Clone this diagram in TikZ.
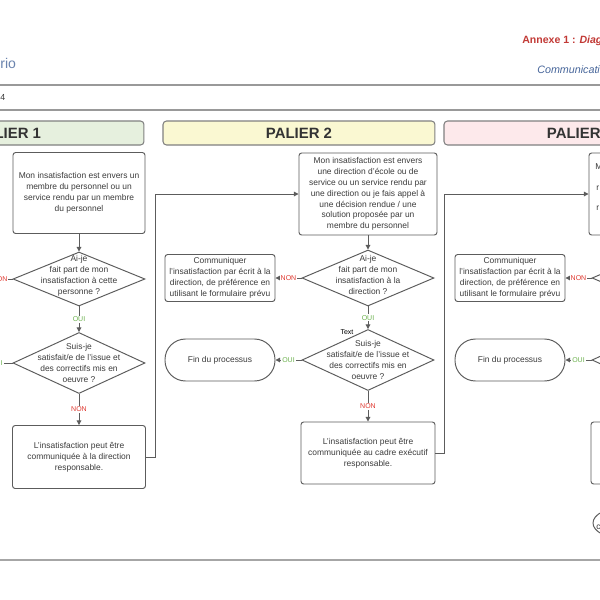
\documentclass[tikz,border=0pt]{standalone}
\usepackage{fontspec}
\setmainfont{Liberation Sans}
\usetikzlibrary{shapes.geometric,arrows.meta}

\definecolor{boxline}{HTML}{5C5C5C}
\definecolor{boxtext}{HTML}{3C3C3C}
\definecolor{nonred}{HTML}{E0382F}
\definecolor{ouigreen}{HTML}{6DB24F}
\definecolor{titlered}{HTML}{C23A36}
\definecolor{titleblue}{HTML}{46659A}
\definecolor{palgreen}{HTML}{E6F0DE}
\definecolor{palyellow}{HTML}{FAF8D2}
\definecolor{palpink}{HTML}{FDE9EB}

\begin{document}
\begin{tikzpicture}[x=0.02cm, y=-0.02cm]
		
\tikzstyle{mybox}=[
  rectangle,
  rounded corners=1.5pt,
  draw=boxline,
  line width=0.55pt,
  text=boxtext,
  align=center,
  font=\fontsize{4.8}{6.2}\selectfont,
  inner sep=0pt]

\tikzstyle{mydiamond}=[
  diamond,
  draw=boxline,
  line width=0.55pt,
  inner sep=0pt,
  minimum width=2.64cm]

\tikzstyle{mytext}=[
  text=boxtext,
  align=center,
  font=\fontsize{4.8}{6.2}\selectfont,
  inner sep=0pt]

\tikzstyle{myend}=[
  rectangle,
  rounded corners=0.41cm,
  draw=boxline,
  line width=0.55pt,
  minimum width=2.2cm,
  minimum height=0.84cm,
  text=boxtext,
  font=\fontsize{4.8}{6.2}\selectfont]

\tikzstyle{mypalier}=[
  rectangle,
  rounded corners=2pt,
  draw=black!50,
  line width=0.6pt,
  minimum width=5.44cm,
  minimum height=0.48cm,
  text=black!80,
  font=\fontsize{8.5}{10}\selectfont\bfseries]

\tikzstyle{mynon}=[fill=white, text=nonred, inner sep=0.6pt, font=\fontsize{4}{4}\selectfont]

\tikzstyle{myoui}=[fill=white, text=ouigreen, inner sep=0.6pt, font=\fontsize{4}{4}\selectfont]

\tikzstyle{myline}=[draw=boxline, line width=0.55pt]

\tikzstyle{myarrow}=[myline, -{Triangle[length=2.6pt, width=2.6pt]}]

% page
\path[use as bounding box, fill=white] (0,0) rectangle (600,600);
\clip (0,0) rectangle (600,600);

% define points
\path
  (79,193) coordinate(pM1)
  +(0,86) coordinate(pA1)
  +(0,170) coordinate(pS1)
  +(0,264) coordinate(pL1)
  (368,194) coordinate(pM2)
  (368,278) coordinate(pA2)
  +(0,82) coordinate(pS2)
  +(0,175) coordinate(pL2)
  +(-148,0) coordinate(pC2)
  +(-148,82) coordinate(pF2)
  (658,194) coordinate(pM3)
  (658,278) coordinate(pA3)
  +(0,82) coordinate(pS3)
  +(0,175) coordinate(pL3)
  +(-148,0) coordinate(pC3)
  +(-148,82) coordinate(pF3)
  (-20,279) coordinate(E1)
  (-20,363) coordinate(E2)
  (155,457) coordinate(K1)
  (444,453) coordinate(K2)
  ;

% header
\node[anchor=west, inner sep=0pt, text=titlered, font=\fontsize{6}{7}\selectfont\bfseries] (annexe) at (522,41) {Annexe 1 : \textit{Diag}};
\node[anchor=west, inner sep=0pt, text=titleblue, font=\fontsize{6.1}{7}\selectfont\itshape] (commu) at (537,70) {Communicati};
\node[anchor=west, text=titleblue!80, font=\fontsize{8}{9}\selectfont, inner sep=0pt] (scen) at (0,63) {rio};
\node[anchor=west, text=boxtext, font=\fontsize{5}{6}\selectfont, inner sep=0pt] (date) at (0,97) {4};
\draw[draw=black!40, line width=0.6pt] (0,85) coordinate(H1) -- (600,85) coordinate(H2);
\draw[draw=black!40, line width=0.6pt] (0,110) coordinate(H3) -- (600,110) coordinate(H4);
\draw[draw=black!35, line width=0.6pt] (0,560) coordinate(H5) -- (600,560) coordinate(H6);

\node[mypalier, fill=palgreen] (P1) at (8,133) {PALIER 1};
\node[mypalier, fill=palyellow] (P2) at (299,133) {PALIER 2};
\node[mypalier, fill=palpink] (P3) at (580,133) {PALIER 3};

% palier 1
\node[mybox, minimum width=2.64cm, minimum height=1.62cm] (M1) at (pM1) {Mon insatisfaction est envers un\\membre du personnel ou un\\service rendu par un membre\\du personnel};
\node[mydiamond, minimum height=1.08cm] (A1) at (pA1) {};
\node[mytext, yshift=0.06cm] (A1t) at (pA1) {Ai-je\\fait part de mon\\insatisfaction à cette\\personne ?};
\node[mydiamond, minimum height=1.22cm] (S1) at (pS1) {};
\node[mytext] (S1t) at (pS1) {Suis-je\\satisfait/e de l'issue et\\des correctifs mis en\\oeuvre ?};
\node[mybox, minimum width=2.66cm, minimum height=1.26cm] (L1) at (pL1) {L'insatisfaction peut être\\communiquée à la direction\\responsable.};

% palier 2
\node[mybox, minimum width=2.76cm, minimum height=1.64cm] (M2) at (pM2) {Mon insatisfaction est envers\\une direction d'école ou de\\service ou un service rendu par\\une direction ou je fais appel à\\une décision rendue / une\\solution proposée par un\\membre du personnel};
\node[mydiamond, minimum height=1.12cm] (A2) at (pA2) {};
\node[mytext, yshift=0.06cm] (A2t) at (pA2) {Ai-je\\fait part de mon\\insatisfaction à la\\direction ?};
\node[mydiamond, minimum height=1.22cm] (S2) at (pS2) {};
\node[mytext] (S2t) at (pS2) {Suis-je\\satisfait/e de l'issue et\\des correctifs mis en\\oeuvre ?};
\node[mybox, minimum width=2.68cm, minimum height=1.24cm] (L2) at (pL2) {L'insatisfaction peut être\\communiquée au cadre exécutif\\responsable.};
\node[mybox, minimum width=2.2cm, minimum height=0.94cm] (C2) at (pC2) {Communiquer\\l'insatisfaction par écrit à la\\direction, de préférence en\\utilisant le formulaire prévu};
\node[myend] (F2) at (pF2) {Fin du processus};
\node[text=black, font=\fontsize{4}{4}\selectfont, inner sep=0pt] (T2) at (347,332) {Text};

% palier 3
\node[mybox, minimum width=2.76cm, minimum height=1.64cm] (M3) at (pM3) {};
\node[mytext, anchor=west] (M3a) at (595,167) {M};
\node[mytext, anchor=west] (M3b) at (596,188) {r};
\node[mytext, anchor=west] (M3c) at (596,208) {r};
\node[mydiamond, minimum height=1.12cm] (A3) at (pA3) {};
\node[mydiamond, minimum height=1.22cm] (S3) at (pS3) {};
\node[mybox, minimum width=2.68cm, minimum height=1.24cm] (L3) at (pL3) {};
\node[mybox, minimum width=2.2cm, minimum height=0.94cm] (C3) at (pC3) {Communiquer\\l'insatisfaction par écrit à la\\direction, de préférence en\\utilisant le formulaire prévu};
\node[myend] (F3) at (pF3) {Fin du processus};
\node[ellipse, draw=boxline, line width=0.55pt, minimum width=1.2cm, minimum height=0.62cm] (O3) at (623,523) {};
\node[mytext, anchor=west] (O3t) at (596,527) {c};

% draw lines
\draw[myarrow] (M1) -- (A1);
\draw[myarrow] (A1) -- node[myoui]{OUI} (S1);
\draw[myarrow] (S1) -- node[mynon]{NON} (L1);
\draw[myline] (A1.west) -- node[mynon, pos=0.4]{NON} (E1);
\draw[myline] (S1.west) -- node[myoui, pos=0.5]{OUI} (E2);
\draw[myarrow] (L1.east) -- (K1) |- (M2.west);

\draw[myarrow] (M2) -- (A2);
\draw[myarrow] (A2) -- node[myoui]{OUI} (S2);
\draw[myarrow] (S2) -- node[mynon]{NON} (L2);
\draw[myarrow] (A2.west) -- node[mynon]{NON} (C2.east);
\draw[myarrow] (S2.west) -- node[myoui]{OUI} (F2.east);
\draw[myarrow] (L2.east) -- (K2) |- (M3.west);

\draw[myarrow] (A3.west) -- node[mynon]{NON} (C3.east);
\draw[myarrow] (S3.west) -- node[myoui]{OUI} (F3.east);

\end{tikzpicture}
\end{document}
